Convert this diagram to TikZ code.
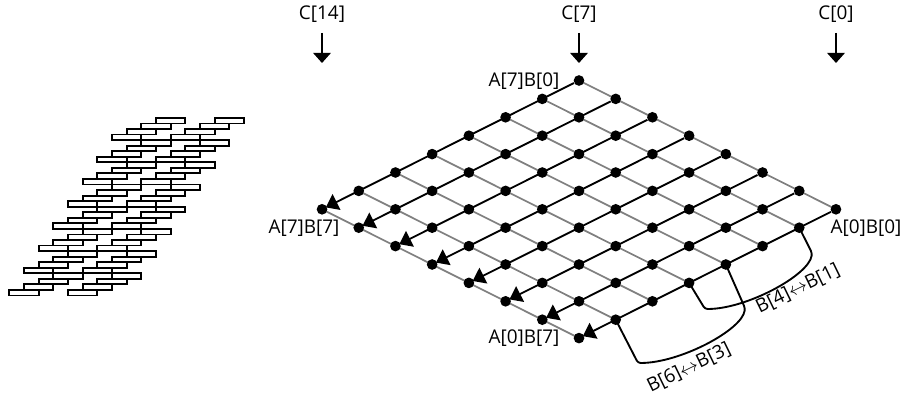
\documentclass[tikz,border=0pt]{standalone}
\usepackage{xcolor}
\usepackage{fontspec}
\setmainfont{Open Sans}
\usetikzlibrary{arrows.meta, backgrounds}
\definecolor{gridgray}{HTML}{808080}

\begin{document}
\begin{tikzpicture}[
  x=0.75pt, y=-0.75pt,
  dot/.style={circle, fill=black, inner sep=0pt, minimum size=8pt},
  lbl/.style={font=\fontsize{14.2}{16}\selectfont, inner sep=0pt},
  brick/.style={draw=black, line width=1.4pt, fill=white},
  prodline/.style={-{Triangle[length=9pt, width=13pt]}, line width=1.4pt, black, shorten >=-1pt},
  addline/.style={line width=1.3pt, gridgray},
  colarr/.style={-{Triangle[length=7.5pt, width=13pt]}, line width=1.4pt, black},
  swapline/.style={line width=1.4pt, black, rounded corners=2pt}
]
  \useasboundingbox (0,0) rectangle (906,399);

  % staggered bricks on the left
  \foreach \grp in {0,...,7}
    \foreach \rw in {0,...,3}
      \foreach \col in {0,1}
        \draw[brick] ({9.3+14.67*(\grp+\rw)+58.67*\col},{295.5-5.55*(4*\grp+\rw)})
          rectangle ++(29.33,-5.55);

  % partial product dots
  \foreach \ia in {0,...,7}
    \foreach \ib in {0,...,7}
      \node[dot] (a\ia b\ib) at ({579+(7-\ia)*36.71-\ib*36.71},{80.5+(7-\ia)*18.4+\ib*18.4}) {};

  \begin{pgfonlayer}{background}
    \foreach \ib in {0,...,7}
      \draw[addline] (a7b\ib.center) -- (a0b\ib.center);
  \end{pgfonlayer}
  \foreach \ia in {0,...,7}
    \draw[prodline] (a\ia b0) -- (a\ia b7);

  \node[lbl] (c14) at (322,14) {C[14]};
  \node[lbl] (c7) at (579,14) {C[7]};
  \node[lbl] (c0) at (836,14) {C[0]};
  \coordinate (c14end) at (322,63);
  \coordinate (c7end) at (579,63);
  \coordinate (c0end) at (836,63);
  \draw[colarr] (322,33) -- (c14end);
  \draw[colarr] (579,33) -- (c7end);
  \draw[colarr] (836,33) -- (c0end);

  \node[lbl] (a7b0lbl) at (524,81) {A[7]B[0]};
  \node[lbl] (a7b7lbl) at (304,228) {A[7]B[7]};
  \node[lbl] (a0b0lbl) at (866,228) {A[0]B[0]};
  \node[lbl] (a0b7lbl) at (524,338) {A[0]B[7]};

  % swaps under the lowest row
  \draw[swapline] (a0b1.center) -- (812,253) .. controls (809,275) and (747,309) .. (705,309) -- (a0b4.center);
  \draw[swapline] (a0b3.center) -- (745,308) .. controls (742,330) and (680,363) .. (638,363) -- (a0b6.center);

  \node[lbl, rotate=26] (swap41) at (798,289) {B[4]$\leftrightarrow$B[1]};
  \node[lbl, rotate=26] (swap63) at (689,368) {B[6]$\leftrightarrow$B[3]};
\end{tikzpicture}
\end{document}
